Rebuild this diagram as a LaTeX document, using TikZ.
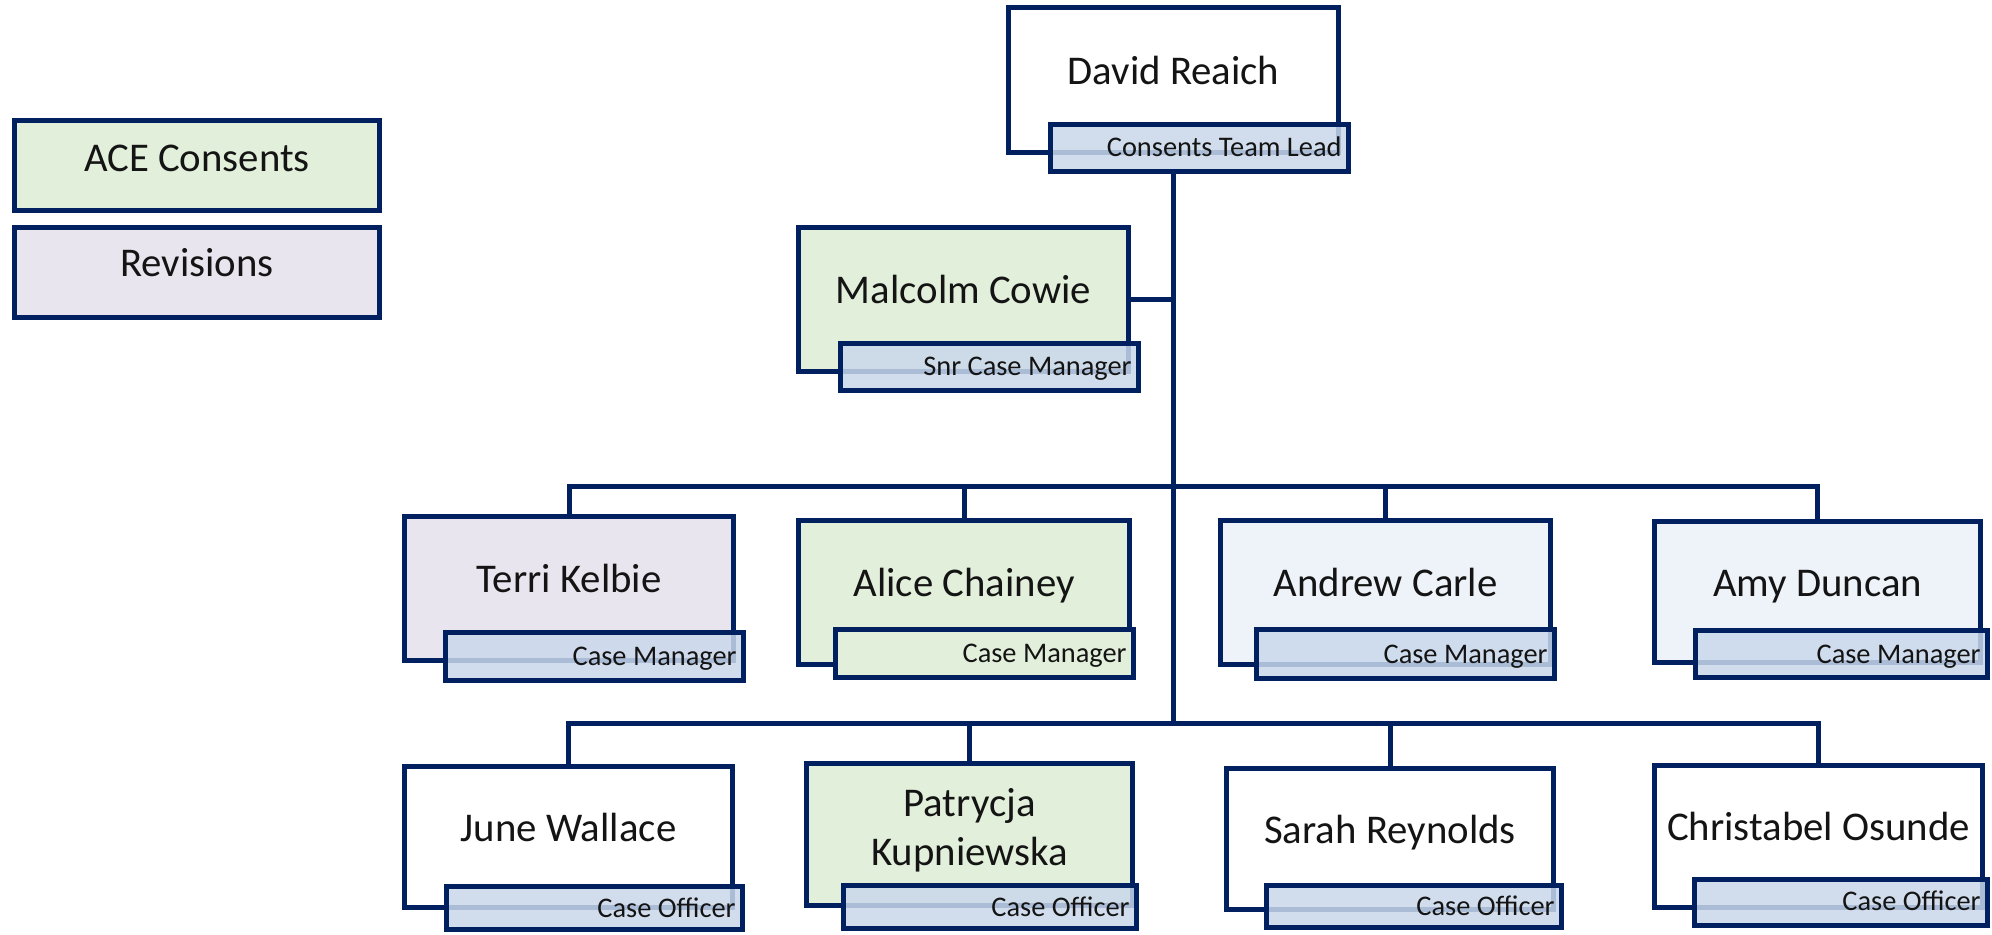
\documentclass[tikz,border=0pt]{standalone}
\usepackage{fontspec}
\setmainfont{Carlito}
\usetikzlibrary{fit,calc}
\definecolor{navy}{RGB}{0,32,96}
\definecolor{consgreen}{RGB}{226,239,218}
\definecolor{revlav}{RGB}{233,229,238}
\definecolor{paleblue}{RGB}{238,243,250}
\definecolor{tagblue}{RGB}{202,216,235}
\tikzset{
  box/.style={draw=navy, line width=2.5pt, inner sep=0pt, outer sep=0pt, rectangle},
  tag/.style={box, fill=tagblue, fill opacity=0.85},
  tagopaque/.style={box, fill=consgreen},
  nametext/.style={font=\fontsize{20.4pt}{24.5pt}\selectfont, anchor=base, inner sep=0pt, text=black!92},
  titletext/.style={font=\fontsize{14.2pt}{17pt}\selectfont, anchor=base east, inner sep=0pt, text=black!92},
  link/.style={draw=navy, line width=2.5pt}
}
\begin{document}
\begin{tikzpicture}[x=0.5pt,y=-0.5pt]
\useasboundingbox (0,0) rectangle (1992,934);
\fill[white] (0,0) rectangle (1992,934);

% legend
\node[box, fill=consgreen, fit={(14.5,120.5) (379.5,210.5)}] (lg1) {};
\node[nametext] (lg1t) at ($(lg1.center)+(0,5.5)$) {ACE Consents};
\node[box, fill=revlav, fit={(14.5,227.5) (379.5,317.5)}] (lg2) {};
\node[nametext] (lg2t) at ($(lg2.center)+(0,4)$) {Revisions};

% boxes (drawn first so connectors end at borders)
\node[box, fill=white, fit={(1008.5,7.5) (1338.5,152.5)}] (dr) {};
\node[box, fill=consgreen, fit={(798.5,227.5) (1128.5,371.5)}] (mc) {};
\node[box, fill=revlav, fit={(404.5,516.5) (733.5,660.5)}] (tk) {};
\node[box, fill=consgreen, fit={(798.5,520.5) (1129.5,664.5)}] (ac) {};
\node[box, fill=paleblue, fit={(1220.5,520.5) (1550.5,664.5)}] (an) {};
\node[box, fill=paleblue, fit={(1654.5,521.5) (1980.5,662.5)}] (ad) {};
\node[box, fill=white, fit={(404.5,766.5) (732.5,907.5)}] (jw) {};
\node[box, fill=consgreen, fit={(806.5,763.5) (1132.5,905.5)}] (pk) {};
\node[box, fill=white, fit={(1226.5,768.5) (1553.5,909.5)}] (sr) {};
\node[box, fill=white, fit={(1654.5,765.5) (1982.5,907.5)}] (co) {};

% title tags
\node[tag, fit={(1050.5,124.5) (1348.5,171.5)}] (drt) {};
\node[tag, fit={(840.5,343.5) (1138.5,390.5)}] (mct) {};
\node[tag, fit={(445.5,632.5) (743.5,680.5)}] (tkt) {};
\node[tagopaque, fit={(835.5,629.5) (1133.5,677.5)}] (act) {};
\node[tag, fit={(1256.5,629.5) (1554.5,678.5)}] (ant) {};
\node[tag, fit={(1695.5,630.5) (1987.5,677.5)}] (adt) {};
\node[tag, fit={(446.5,886.5) (742.5,929.5)}] (jwt) {};
\node[tag, fit={(843.5,885.5) (1136.5,928.5)}] (pkt) {};
\node[tag, fit={(1266.5,885.5) (1561.5,927.5)}] (srt) {};
\node[tag, fit={(1694.5,879.5) (1987.5,925.5)}] (cot) {};

% connectors
\coordinate (bus1) at (1173.5,486);
\coordinate (bus2) at (1173.5,723);
\draw[link] (dr.center |- drt.south) -- (bus2);
\draw[link] (mc.east) -- (mc.east -| dr.center);
\draw[link] (tk.north) -- (tk.north |- bus1) -- (ad.north |- bus1) -- (ad.north);
\draw[link] (ac.north |- bus1) -- (ac.north);
\draw[link] (an.north |- bus1) -- (an.north);
\draw[link] (jw.north) -- (jw.north |- bus2) -- (co.north |- bus2) -- (co.north);
\draw[link] (pk.north |- bus2) -- (pk.north);
\draw[link] (sr.north |- bus2) -- (sr.north);

% names
\node[nametext] (drn) at ($(dr.center)+(0,4)$) {David Reaich};
\node[nametext] (mcn) at ($(mc.center)+(0,4)$) {Malcolm Cowie};
\node[nametext] (tkn) at ($(tk.center)+(0,4)$) {Terri Kelbie};
\node[nametext] (acn) at ($(ac.center)+(0,4)$) {Alice Chainey};
\node[nametext] (ann) at ($(an.center)+(0,4)$) {Andrew Carle};
\node[nametext] (adn) at ($(ad.center)+(0,4)$) {Amy Duncan};
\node[nametext] (jwn) at ($(jw.center)+(0,4)$) {June Wallace};
\node[nametext, align=center] (pkn) at ($(pk.center)+(0,30.5)$) {Patrycja\\Kupniewska};
\node[nametext] (srn) at ($(sr.center)+(0,4)$) {Sarah Reynolds};
\node[nametext] (con) at ($(co.center)+(0,4)$) {Christabel Osunde};

% titles
\node[titletext] (drtt) at ($(drt.east)+(-6.5,8)$) {Consents Team Lead};
\node[titletext] (mctt) at ($(mct.east)+(-6.5,8)$) {Snr Case Manager};
\node[titletext] (tktt) at ($(tkt.east)+(-6.5,9)$) {Case Manager};
\node[titletext] (actt) at ($(act.east)+(-6.5,9)$) {Case Manager};
\node[titletext] (antt) at ($(ant.east)+(-6.5,9)$) {Case Manager};
\node[titletext] (adtt) at ($(adt.east)+(-6.5,9)$) {Case Manager};
\node[titletext] (jwtt) at ($(jwt.east)+(-6.5,9)$) {Case Officer};
\node[titletext] (pktt) at ($(pkt.east)+(-6.5,9)$) {Case Officer};
\node[titletext] (srtt) at ($(srt.east)+(-6.5,9)$) {Case Officer};
\node[titletext] (cott) at ($(cot.east)+(-6.5,8)$) {Case Officer};
\end{tikzpicture}
\end{document}
